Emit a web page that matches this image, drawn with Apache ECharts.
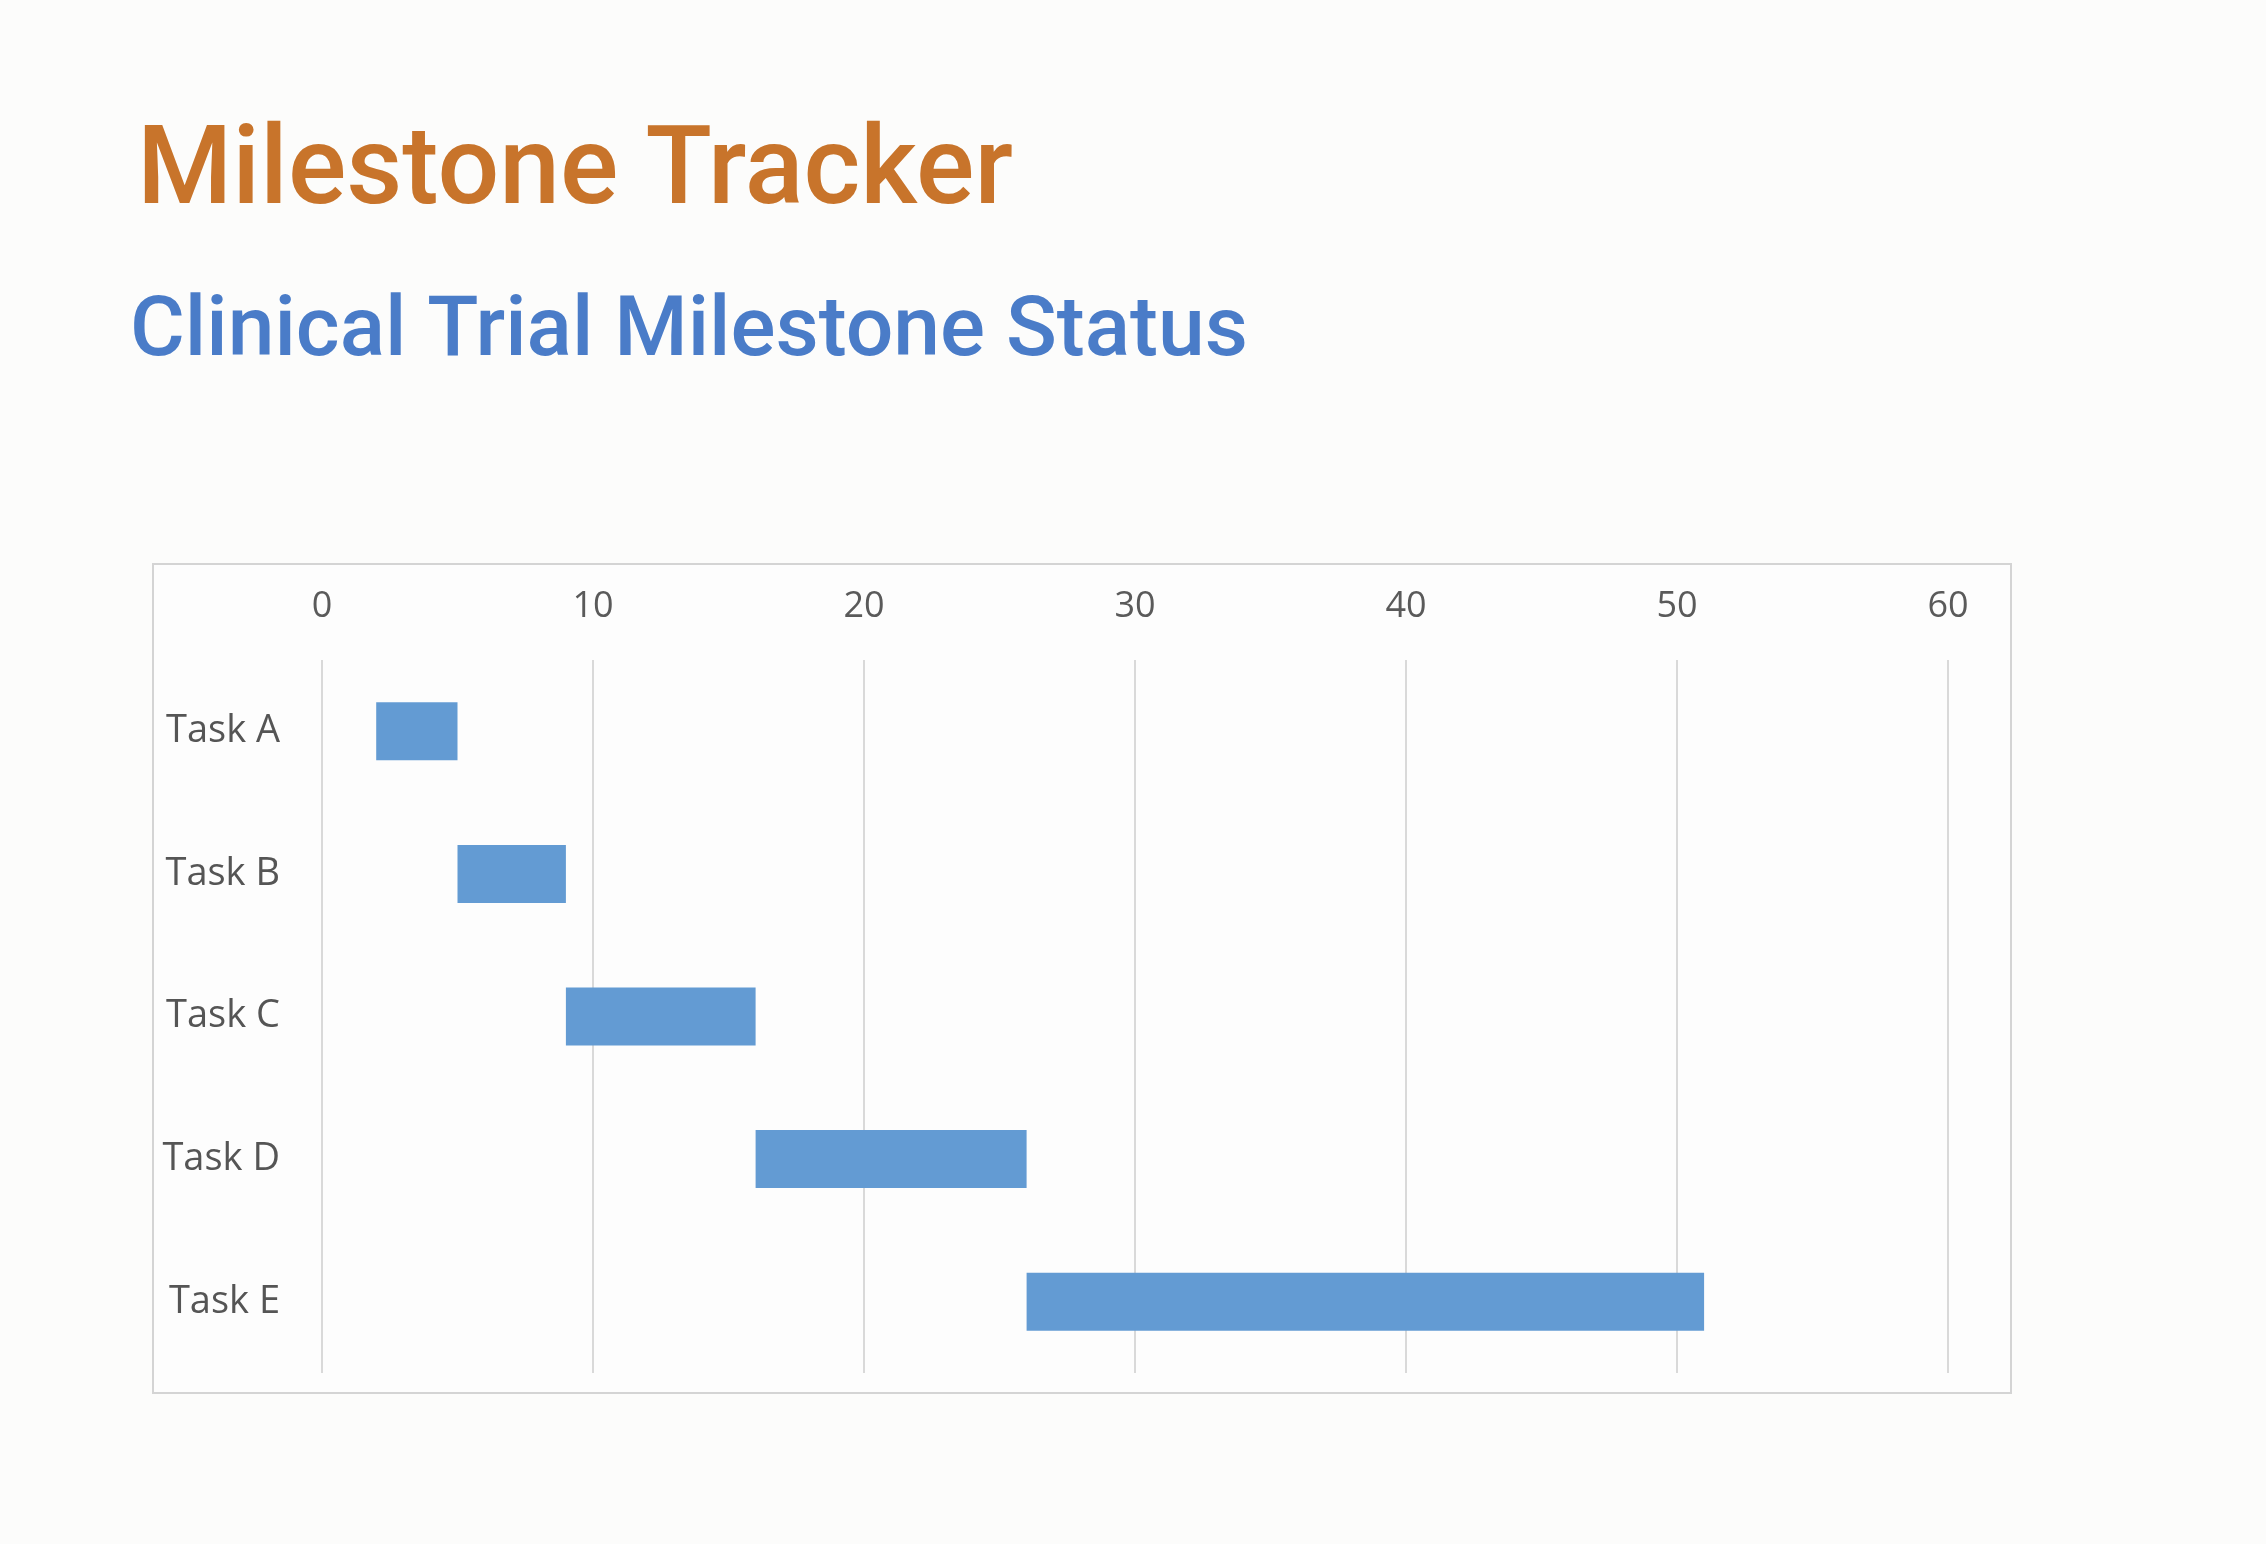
<!DOCTYPE html>
<html>
<head>
<meta charset="utf-8">
<title>Milestone Tracker</title>
<script src="https://cdn.jsdelivr.net/npm/echarts@6/dist/echarts.min.js"></script>
<style>
  html, body { margin: 0; padding: 0; background: #fcfcfb; }
  #chart-container { width: 2266px; height: 1544px; }
</style>
</head>
<body>
<div id="chart-container"></div>
<script>
var tasks = ["Task A", "Task B", "Task C", "Task D", "Task E"];
var startDay = [2, 5, 9, 16, 26];
var duration = [3, 4, 7, 10, 25];
var xTicks = { min: 0, max: 60, interval: 10 };

var dom = document.getElementById("chart-container");
var myChart = echarts.init(dom, null, { renderer: "canvas" });

var labelFont = '"Open Sans", sans-serif';

var option = {
  backgroundColor: "#fcfcfb",
  animation: false,
  title: [
    {
      text: "Milestone Tracker",
      left: 132,
      top: 116,
      textStyle: {
        fontFamily: "Roboto, sans-serif",
        fontWeight: 500,
        fontSize: 109,
        lineHeight: 109,
        color: "#c8742b"
      }
    },
    {
      text: "Clinical Trial Milestone Status",
      left: 125,
      top: 287,
      textStyle: {
        fontFamily: "Roboto, sans-serif",
        fontWeight: 500,
        fontSize: 84,
        lineHeight: 84,
        color: "#4a7cc8"
      }
    }
  ],
  graphic: [
    {
      type: "rect",
      silent: true,
      z: -1,
      shape: { x: 153, y: 564, width: 1858, height: 829 },
      style: { fill: "#fdfdfd", stroke: "#d4d4d4", lineWidth: 2 }
    }
  ],
  grid: {
    left: 322,
    right: 318,
    top: 660,
    bottom: 171,
    containLabel: false
  },
  xAxis: {
    type: "value",
    position: "top",
    min: xTicks.min,
    max: xTicks.max,
    interval: xTicks.interval,
    axisLine: { show: false },
    axisTick: { show: false },
    axisLabel: {
      margin: 35,
      fontFamily: labelFont,
      fontSize: 36,
      color: "#5a5a5a"
    },
    splitLine: {
      show: true,
      lineStyle: { color: "#d9d9d9", width: 2 }
    }
  },
  yAxis: {
    type: "category",
    data: tasks,
    inverse: true,
    axisLine: { show: false },
    axisTick: { show: false },
    splitLine: { show: false },
    axisLabel: {
      margin: 42,
      fontFamily: labelFont,
      fontSize: 38,
      color: "#555555"
    }
  },
  series: [
    {
      name: "Start",
      type: "bar",
      stack: "gantt",
      data: startDay,
      barWidth: 58,
      silent: true,
      itemStyle: { color: "rgba(0,0,0,0)" }
    },
    {
      name: "Duration",
      type: "bar",
      stack: "gantt",
      data: duration,
      barWidth: 58,
      itemStyle: { color: "#639bd3" }
    }
  ]
};

myChart.setOption(option);
window.addEventListener("resize", myChart.resize);
</script>
</body>
</html>
